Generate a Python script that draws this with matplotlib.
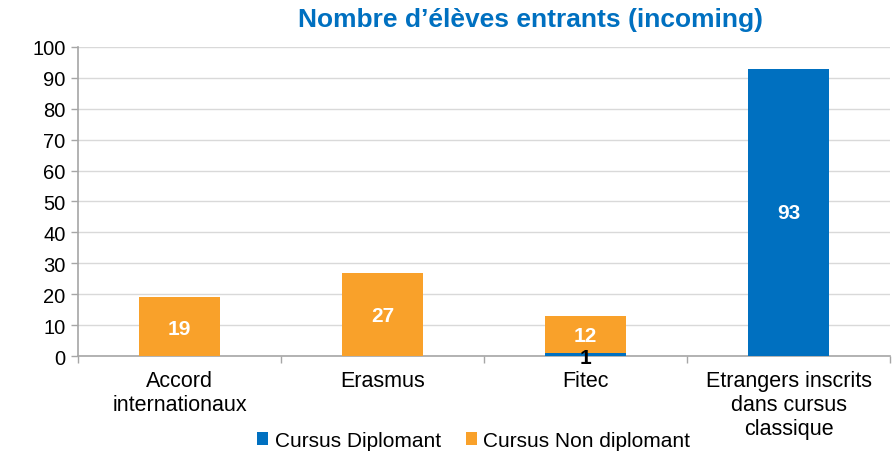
import numpy as np
import matplotlib
matplotlib.use('Agg')
import matplotlib.pyplot as plt

categories = ['Accord\ninternationaux', 'Erasmus', 'Fitec', 'Etrangers inscrits\ndans cursus\nclassique']
diplomant = [0, 0, 1, 93]
non_diplomant = [19, 27, 12, 0]

blue = '#0070C0'
orange = '#F9A12A'
grey = '#A6A6A6'

plt.rcParams['font.family'] = ['Liberation Sans', 'DejaVu Sans']

fig = plt.figure(figsize=(8.92, 4.52), dpi=100)
ax = fig.add_axes([0.0874, 0.210, 0.9106, 0.684])

x = np.arange(len(categories))
w = 0.4
b1 = ax.bar(x, diplomant, w, color=blue, label='Cursus Diplomant', zorder=3)
b2 = ax.bar(x, non_diplomant, w, bottom=diplomant, color=orange, label='Cursus Non diplomant', zorder=3)

# data labels
for i in range(len(x)):
    if non_diplomant[i] > 0:
        ax.text(x[i], diplomant[i] + non_diplomant[i] / 2 - 0.5, str(non_diplomant[i]),
                ha='center', va='center', color='white', fontsize=15, fontweight='bold', zorder=4)
    if diplomant[i] > 1:
        ax.text(x[i], diplomant[i] / 2, str(diplomant[i]),
                ha='center', va='center', color='white', fontsize=15, fontweight='bold', zorder=4)
    elif diplomant[i] == 1:
        ax.text(x[i], -0.5, str(diplomant[i]),
                ha='center', va='center', color='black', fontsize=15, fontweight='bold', zorder=4)

ax.set_xlim(-0.5, len(categories) - 0.5)
ax.set_ylim(0, 100)
ax.set_yticks(range(0, 101, 10))
ax.yaxis.grid(True, color='#D9D9D9', linewidth=1, zorder=0)
ax.set_axisbelow(True)

ax.set_xticks(x)
ax.set_xticklabels(categories, fontsize=15.5, linespacing=1.2)
ax.tick_params(axis='x', length=0, pad=10)
ax.set_xticks(np.arange(-0.5, len(categories)), minor=True)
ax.tick_params(axis='x', which='minor', length=5, color=grey, width=1)
ax.tick_params(axis='y', labelsize=14.5, length=5, color=grey, width=1, pad=4)

for s in ['top', 'right']:
    ax.spines[s].set_visible(False)
for s in ['left', 'bottom']:
    ax.spines[s].set_color(grey)
    ax.spines[s].set_linewidth(1.2)

fig.text(0.595, 0.955, 'Nombre d\u2019élèves entrants (incoming)', ha='center', va='center',
         color=blue, fontsize=19, fontweight='bold')

fig.legend(handles=[b1, b2], loc='center', bbox_to_anchor=(0.531, 0.024), ncol=2,
           frameon=False, fontsize=15, handlelength=0.55, handleheight=0.55,
           handletextpad=0.3, columnspacing=1.2, borderaxespad=0)

fig.savefig('out.png', dpi=100)
